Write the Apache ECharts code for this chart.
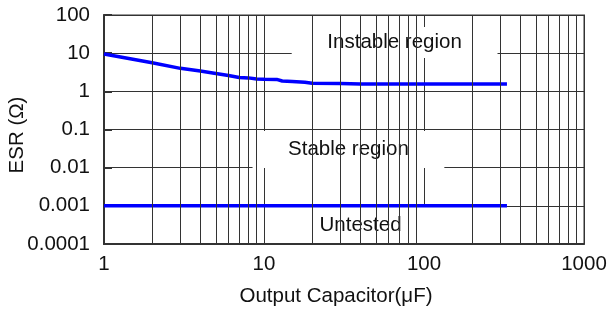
<!DOCTYPE html>
<html>
<head>
<meta charset="utf-8">
<script src="https://cdn.jsdelivr.net/npm/echarts@6/dist/echarts.min.js"></script>
<style>html,body{margin:0;padding:0;background:#fff}#c{width:610px;height:309px}</style>
</head>
<body>
<div id="c"></div>
<script>
// ---- data ----
const capacitance = [1, 2, 3, 4, 5, 6, 7, 8, 9, 10, 12, 13, 15, 18, 20, 30, 40, 60, 100, 200, 330];
const esrUpper    = [9.5, 5.6, 4.0, 3.4, 2.95, 2.6, 2.3, 2.25, 2.1, 2.07, 2.05, 1.86, 1.8, 1.72, 1.63, 1.6, 1.55, 1.55, 1.55, 1.55, 1.55];
const lowerCap    = [1, 330];
const esrLower    = [0.001, 0.001];
const xTickLabels = ['1', '10', '100', '1000'];
const yTickLabels = ['0.0001', '0.001', '0.01', '0.1', '1', '10', '100'];
const minorGridX  = [2,3,4,5,6,7,8,9,20,30,40,50,60,70,80,90,200,300,400,500,600,700,800,900];
const regionNames = ['Instable region', 'Stable region', 'Untested'];
const regionX     = [[14.9, 288], [8.48, 134], [11.0, 146.5]];
const regionY     = [[7.46, 48.4], [0.0098, 0.091], [0.000106, 0.000927]];

const FONT = 'Liberation Sans, Arial, Helvetica, sans-serif';
const FS = 20.5;
const chart = echarts.init(document.getElementById('c'), null, {renderer: 'canvas'});

const areaData = regionNames.map((n, i) => [
  {name: n, coord: [regionX[i][0], regionY[i][0]]},
  {coord: [regionX[i][1], regionY[i][1]]}
]);

chart.setOption({
  animation: false,
  backgroundColor: '#fff',
  grid: {left: 104, right: 26, top: 15, bottom: 65, containLabel: false, outerBoundsMode: 'none',
    show: true, borderColor: '#999', borderWidth: 2, backgroundColor: 'transparent'},
  xAxis: {
    type: 'log', logBase: 10, min: 1, max: 1000,
    name: 'Output Capacitor(\u03bcF)', nameLocation: 'middle', nameGap: 42, nameMoveOverlap: false,
    nameTextStyle: {fontSize: FS, color: '#111', fontFamily: FONT, padding: [0, 16, 0, 0]},
    axisLine: {show: true, lineStyle: {color: '#333', width: 2}},
    axisTick: {show: false},
    axisLabel: {fontSize: FS, color: '#111', fontFamily: FONT, margin: 10,
      formatter: v => xTickLabels[Math.round(Math.log10(v))]},
    splitLine: {show: true, lineStyle: {color: '#333', width: 1}},
    minorTick: {show: false}, minorSplitLine: {show: false}
  },
  yAxis: {
    type: 'log', logBase: 10, min: 0.0001, max: 100,
    name: 'ESR (\u03a9)', nameLocation: 'middle', nameGap: 76, nameMoveOverlap: false,
    nameTextStyle: {fontSize: FS, color: '#111', fontFamily: FONT, padding: [0, 11, 0, 0]},
    axisLine: {show: true, lineStyle: {color: '#333', width: 2}},
    axisTick: {show: true, inside: true, length: 8, lineStyle: {color: '#333', width: 2}},
    axisLabel: {fontSize: FS, color: '#111', fontFamily: FONT, margin: 14,
      formatter: v => yTickLabels[Math.round(Math.log10(v)) + 4]},
    splitLine: {show: true, lineStyle: {color: '#333', width: 1}}
  },
  series: [
    {
      type: 'line', data: [], z: 1, silent: true,
      markLine: {
        silent: true, symbol: ['none', 'none'], label: {show: false},
        lineStyle: {type: 'solid', color: '#333', width: 1},
        emphasis: {disabled: true},
        data: minorGridX.map(v => ({xAxis: v}))
      }
    },
    {
      type: 'line', data: [], z: 2, silent: true,
      markArea: {
        silent: true,
        itemStyle: {color: '#fff', opacity: 1},
        label: {show: true, position: 'inside', fontSize: FS, color: '#111', fontFamily: FONT},
        emphasis: {disabled: true},
        data: areaData
      }
    },
    {
      type: 'line', z: 3, silent: true, showSymbol: false, symbol: 'none',
      lineStyle: {color: '#0000ff', width: 3.5},
      data: capacitance.map((c, i) => [c, esrUpper[i]])
    },
    {
      type: 'line', z: 3, silent: true, showSymbol: false, symbol: 'none',
      lineStyle: {color: '#0000ff', width: 3.5},
      data: lowerCap.map((c, i) => [c, esrLower[i]])
    }
  ]
});
</script>
</body>
</html>
